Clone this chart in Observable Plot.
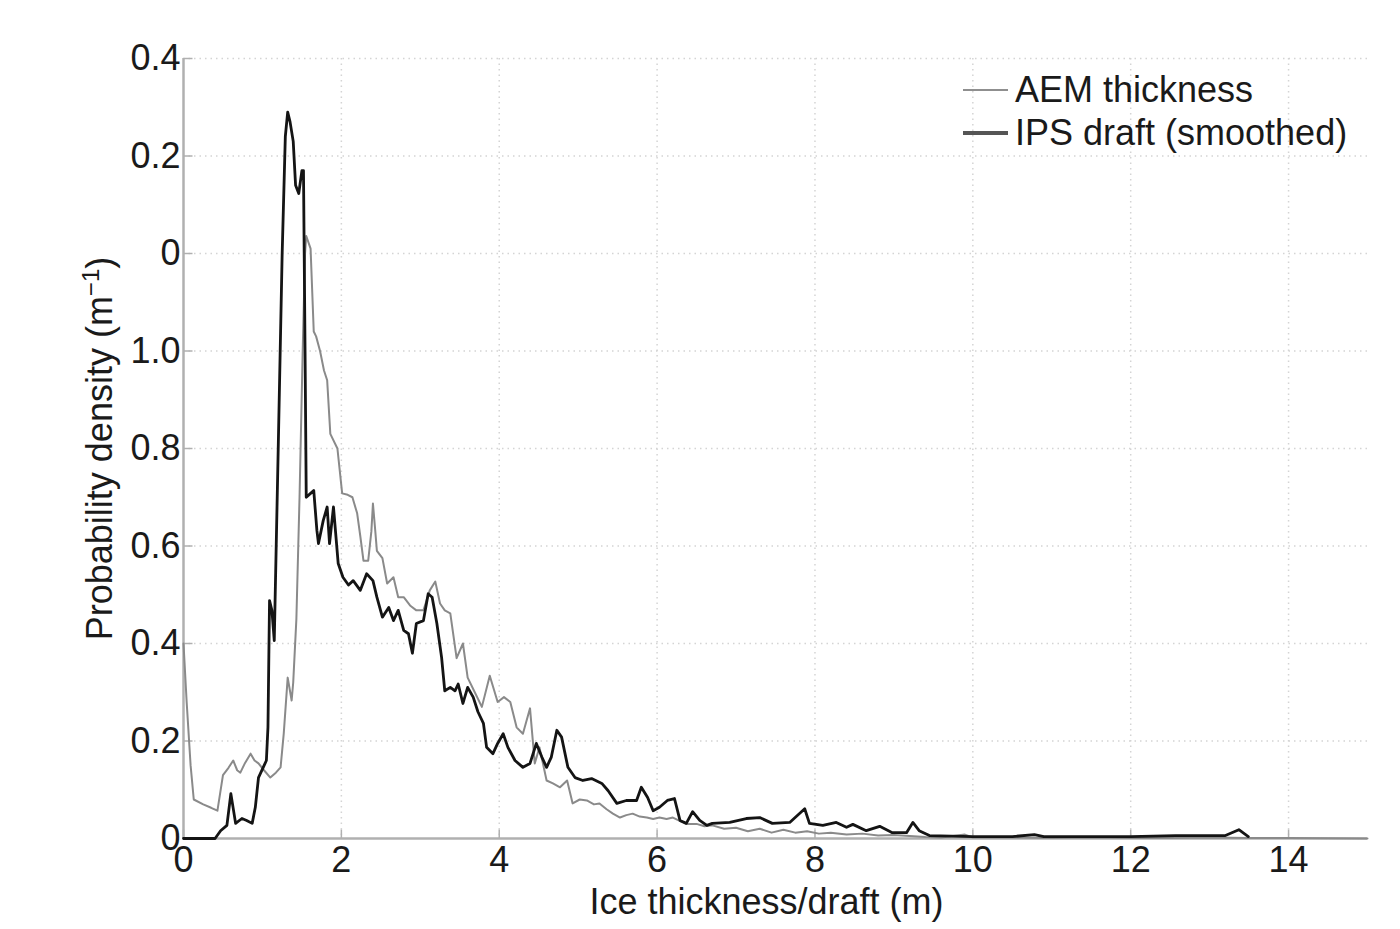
<!DOCTYPE html>
<html>
<head>
<meta charset="utf-8">
<script src="https://cdn.jsdelivr.net/npm/d3@7"></script>
<script src="https://cdn.jsdelivr.net/npm/@observablehq/plot@0.6"></script>
<style>
  html, body { margin: 0; padding: 0; background: #fff; }
  #wrap { position: relative; width: 1400px; height: 929px; font-family: "Liberation Sans", Arial, Helvetica, sans-serif; }
  #legend { position: absolute; left: 963px; top: 68px; font-size: 36px; color: #1a1a1a; }
  #legend .row { display: flex; align-items: center; height: 43px; white-space: nowrap; }
  #legend .sw { width: 45px; margin-right: 7px; }
</style>
</head>
<body>
<div id="wrap"></div>
<script>
// ---- data ----
const aemX = [0,0.04,0.09,0.13,0.25,0.35,0.43,0.5,0.57,0.63,0.68,0.72,0.78,0.85,0.9,0.95,1.02,1.1,1.17,1.23,1.27,1.32,1.37,1.39,1.43,1.47,1.51,1.54,1.555,1.61,1.65,1.68,1.73,1.78,1.82,1.86,1.95,2.01,2.08,2.14,2.2,2.24,2.28,2.34,2.38,2.4,2.43,2.45,2.52,2.58,2.66,2.72,2.79,2.87,2.95,3.04,3.12,3.19,3.25,3.31,3.38,3.46,3.54,3.6,3.69,3.78,3.88,3.98,4.06,4.14,4.22,4.3,4.39,4.45,4.51,4.6,4.68,4.77,4.86,4.93,5.02,5.11,5.2,5.27,5.36,5.44,5.53,5.61,5.69,5.78,5.87,5.95,6.03,6.12,6.2,6.3,6.37,6.5,6.6,6.7,6.85,7.0,7.15,7.3,7.45,7.6,7.75,7.9,8.05,8.2,8.4,8.6,8.8,9.0,9.2,9.4,9.6,9.9,10.0,10.5,11,11.5,12,12.5,13,13.5,14,15];
const aemY = [0.40,0.28,0.15,0.08,0.07,0.063,0.057,0.13,0.145,0.16,0.14,0.135,0.155,0.174,0.16,0.154,0.14,0.125,0.135,0.146,0.215,0.33,0.283,0.32,0.45,0.70,1.0,1.2,1.236,1.21,1.04,1.03,1.0,0.96,0.94,0.83,0.80,0.708,0.705,0.70,0.667,0.62,0.57,0.57,0.63,0.687,0.63,0.59,0.575,0.523,0.536,0.495,0.495,0.478,0.468,0.468,0.509,0.527,0.482,0.468,0.462,0.37,0.40,0.33,0.30,0.27,0.334,0.28,0.29,0.28,0.228,0.215,0.267,0.154,0.187,0.119,0.113,0.105,0.119,0.072,0.08,0.078,0.07,0.072,0.06,0.051,0.043,0.048,0.051,0.045,0.043,0.04,0.043,0.04,0.043,0.035,0.03,0.03,0.025,0.027,0.02,0.022,0.015,0.02,0.012,0.018,0.012,0.015,0.01,0.012,0.008,0.01,0.006,0.007,0.005,0.003,0.002,0.008,0.002,0.002,0.001,0.002,0.001,0.001,0.002,0.001,0.001,0.0];

const ipsX = [0,0.4,0.47,0.55,0.6,0.66,0.74,0.8,0.87,0.91,0.95,1.01,1.05,1.07,1.09,1.12,1.15,1.2,1.25,1.29,1.32,1.35,1.39,1.42,1.46,1.5,1.52,1.54,1.555,1.61,1.65,1.69,1.71,1.77,1.82,1.85,1.9,1.96,2.02,2.09,2.15,2.24,2.32,2.4,2.45,2.52,2.6,2.66,2.72,2.79,2.85,2.9,2.95,3.04,3.1,3.15,3.21,3.27,3.31,3.38,3.44,3.48,3.54,3.6,3.67,3.73,3.8,3.84,3.92,3.98,4.05,4.11,4.2,4.3,4.39,4.47,4.54,4.6,4.66,4.73,4.79,4.87,4.96,5.06,5.17,5.3,5.38,5.49,5.61,5.74,5.8,5.88,5.95,6.03,6.13,6.22,6.29,6.37,6.45,6.54,6.63,6.7,6.92,7.13,7.3,7.46,7.68,7.87,7.93,8.1,8.27,8.4,8.48,8.65,8.82,8.98,9.16,9.24,9.32,9.45,10,10.5,10.78,10.9,12,12.57,13.2,13.37,13.49];
const ipsY = [0,0,0.016,0.027,0.092,0.031,0.041,0.037,0.031,0.064,0.125,0.146,0.16,0.228,0.488,0.468,0.406,0.8,1.2,1.44,1.49,1.47,1.43,1.34,1.323,1.37,1.37,1.0,0.70,0.708,0.714,0.632,0.605,0.652,0.68,0.605,0.68,0.564,0.536,0.52,0.529,0.509,0.543,0.529,0.495,0.454,0.474,0.447,0.468,0.427,0.42,0.38,0.441,0.447,0.502,0.495,0.441,0.371,0.303,0.31,0.303,0.317,0.277,0.31,0.29,0.26,0.236,0.187,0.174,0.195,0.215,0.187,0.16,0.146,0.154,0.195,0.167,0.146,0.167,0.222,0.208,0.146,0.125,0.119,0.123,0.113,0.098,0.072,0.078,0.078,0.105,0.084,0.057,0.064,0.078,0.082,0.037,0.031,0.055,0.037,0.027,0.031,0.033,0.041,0.043,0.031,0.033,0.061,0.031,0.027,0.033,0.023,0.029,0.016,0.025,0.012,0.012,0.033,0.016,0.006,0.004,0.004,0.008,0.004,0.004,0.006,0.006,0.018,0.004];

const xTickValues = [0,2,4,6,8,10,12,14];
const xTickLabels = ["0","2","4","6","8","10","12","14"];
const yTickValues = [0,0.2,0.4,0.6,0.8,1.0,1.2,1.4,1.6];
const yTickLabels = ["0","0.2","0.4","0.6","0.8","1.0","0","0.2","0.4"];

const seriesNames = ["AEM thickness", "IPS draft (smoothed)"];
const xLabel = "Ice thickness/draft (m)";
const yLabel = "Probability density (m";

// ---- build tables ----
const aem = aemX.map((x, i) => ({x, y: aemY[i]}));
const ips = ipsX.map((x, i) => ({x, y: ipsY[i]}));

const FONT = "Liberation Sans, Arial, Helvetica, sans-serif";
const FS = 36;
const axisGrey = "#b0b0b0";
const gridGrey = "#d4d4d4";
const aemColor = "#8a8a8a";
const ipsColor = "#141414";
const textColor = "#1a1a1a";

const tickUp = { draw(ctx) { ctx.moveTo(0, 0); ctx.lineTo(0, -9); } };
const tickRight = { draw(ctx) { ctx.moveTo(0, 0); ctx.lineTo(9, 0); } };

const chart = Plot.plot({
  width: 1400,
  height: 929,
  marginLeft: 183,
  marginRight: 33,
  marginTop: 58,
  marginBottom: 91,
  style: { fontFamily: FONT, background: "#fff", overflow: "visible" },
  x: { domain: [0, 15], axis: null },
  y: { domain: [0, 1.6], axis: null },
  marks: [
    Plot.ruleX(xTickValues.slice(1), { stroke: gridGrey, strokeWidth: 1.5, strokeDasharray: "1.5,4" }),
    Plot.ruleY(yTickValues.slice(1), { stroke: gridGrey, strokeWidth: 1.5, strokeDasharray: "1.5,4" }),
    Plot.ruleY([0], { stroke: axisGrey, strokeWidth: 2.5 }),
    Plot.ruleX([0], { stroke: axisGrey, strokeWidth: 2.5 }),
    Plot.dot(xTickValues, { x: d => d, y: () => 0, symbol: tickUp, stroke: axisGrey, strokeWidth: 1.5, fill: "none" }),
    Plot.dot(yTickValues, { x: () => 0, y: d => d, symbol: tickRight, stroke: axisGrey, strokeWidth: 1.5, fill: "none" }),
    Plot.line(aem, { x: "x", y: "y", stroke: aemColor, strokeWidth: 2, strokeLinejoin: "round" }),
    Plot.line(ips, { x: "x", y: "y", stroke: ipsColor, strokeWidth: 2.8, strokeLinejoin: "round" }),
    Plot.text(xTickValues, { x: d => d, frameAnchor: "bottom", dy: 33, text: (d, i) => xTickLabels[i], fontSize: FS, fill: textColor }),
    Plot.text(yTickValues, { y: d => d, frameAnchor: "left", dx: -3, textAnchor: "end", text: (d, i) => yTickLabels[i], fontSize: FS, fill: textColor }),
    Plot.text([xLabel], { frameAnchor: "bottom", dy: 75, dx: -9, textAnchor: "middle", text: d => d, fontSize: FS, fill: textColor }),
    Plot.text([yLabel], { frameAnchor: "left", dx: -83, dy: 0, rotate: -90, textAnchor: "middle", text: d => d, fontSize: FS, fill: textColor })
  ]
});

// superscript for the unit in the y label
d3.select(chart).selectAll("text").each(function () {
  if (this.textContent === yLabel) {
    const t = d3.select(this);
    t.text(yLabel);
    t.append("tspan").attr("baseline-shift", "super").attr("font-size", 24).text("−1");
    t.append("tspan").text(")");
  }
});

const wrap = document.getElementById("wrap");
wrap.appendChild(chart);

// legend (inside the plot area, top right)
const legend = document.createElement("div");
legend.id = "legend";
const swatches = [
  { color: "#8f8f8f", width: 2 },
  { color: "#555555", width: 4 }
];
seriesNames.forEach((name, i) => {
  const row = document.createElement("div");
  row.className = "row";
  const sw = document.createElement("span");
  sw.className = "sw";
  sw.style.borderTop = `${swatches[i].width}px solid ${swatches[i].color}`;
  const label = document.createElement("span");
  label.textContent = name;
  row.appendChild(sw);
  row.appendChild(label);
  legend.appendChild(row);
});
wrap.appendChild(legend);
</script>
</body>
</html>
